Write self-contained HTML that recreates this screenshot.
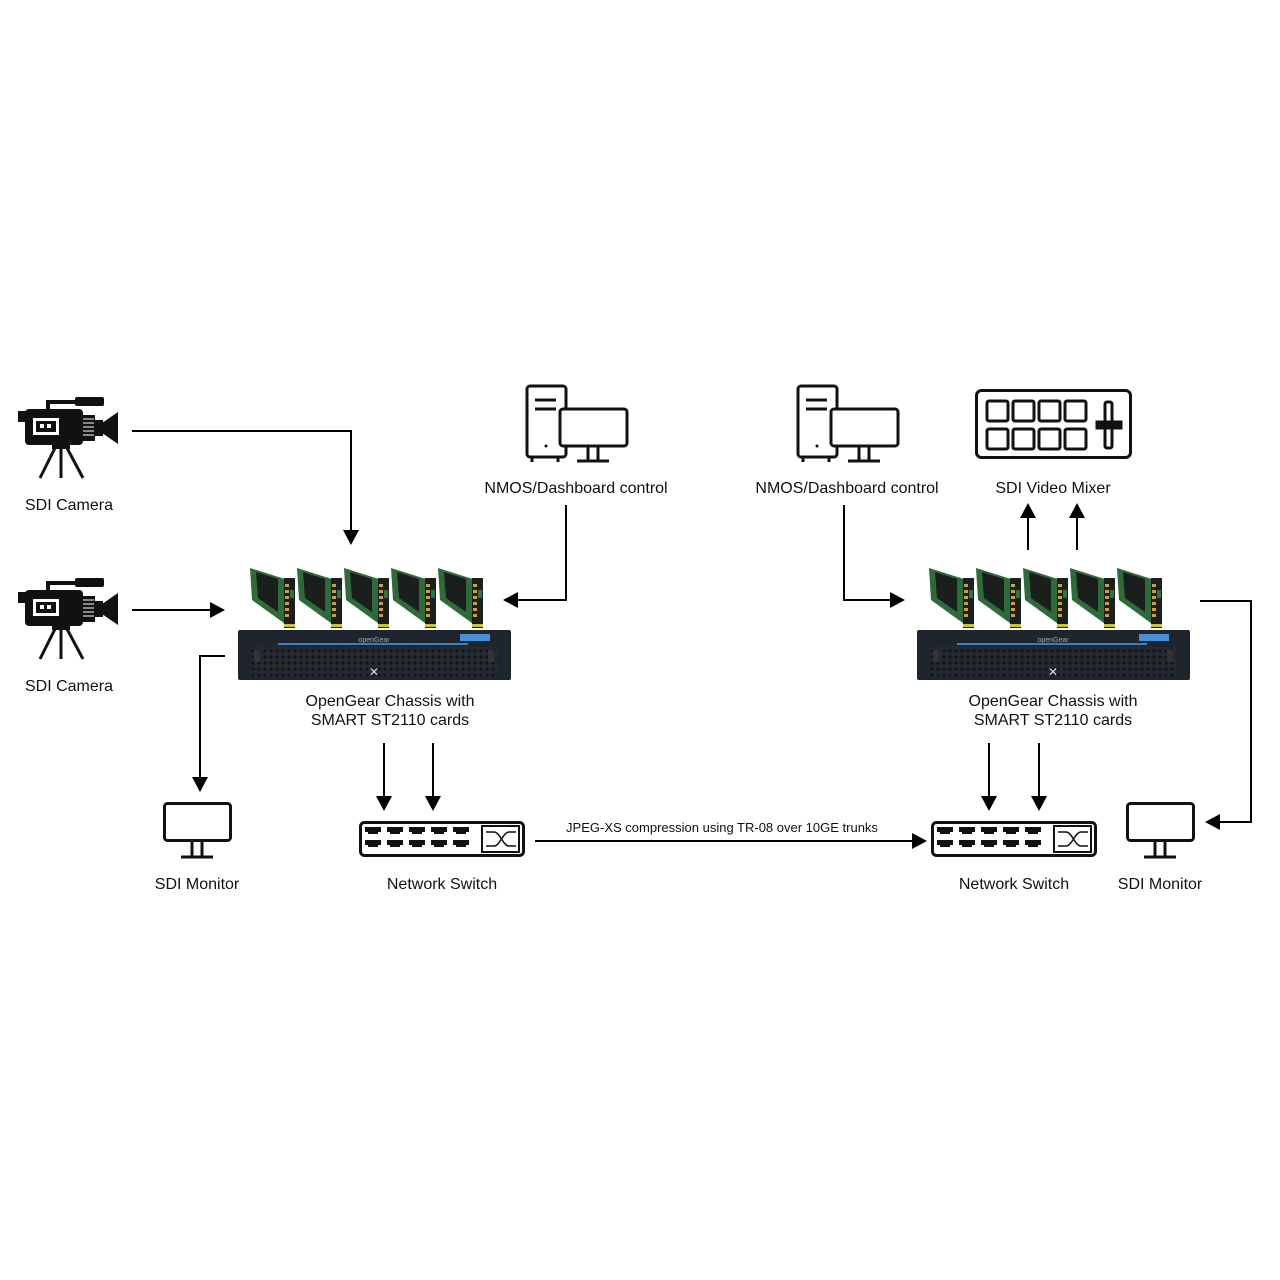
<!DOCTYPE html>
<html><head><meta charset="utf-8"><style>
html,body{margin:0;padding:0;background:#fff}
svg{display:block}
text{font-family:"Liberation Sans",Arial,sans-serif;fill:#111}
</style></head><body>
<svg width="1280" height="1280" viewBox="0 0 1280 1280" xmlns="http://www.w3.org/2000/svg">
<defs>
<pattern id="hex" width="6" height="6" patternUnits="userSpaceOnUse"><rect width="6" height="6" fill="#252a31"/><circle cx="3" cy="3" r="1.6" fill="#111418"/></pattern>
<g id="cam">
  <rect x="3" y="21" width="10" height="11" fill="#111"/>
  <path d="M33 22 V12 H62" stroke="#111" stroke-width="4" fill="none"/>
  <rect x="60" y="7" width="29" height="9" rx="2" fill="#111"/>
  <rect x="10" y="19" width="58" height="36" rx="4" fill="#111"/>
  <rect x="18" y="28" width="26" height="17" fill="#fff"/>
  <rect x="21" y="31" width="20" height="11" fill="#111"/>
  <rect x="25" y="34" width="4" height="4" fill="#fff"/>
  <rect x="32" y="34" width="4" height="4" fill="#fff"/>
  <rect x="67" y="25" width="13" height="26" fill="#111"/>
  <g stroke="#fff" stroke-width="1"><line x1="68" y1="29" x2="79" y2="29"/><line x1="68" y1="33" x2="79" y2="33"/><line x1="68" y1="37" x2="79" y2="37"/><line x1="68" y1="41" x2="79" y2="41"/><line x1="68" y1="45" x2="79" y2="45"/></g>
  <rect x="80" y="30" width="8" height="16" fill="#111"/>
  <polygon points="87,33 103,22 103,54 87,43" fill="#111"/>
  <rect x="37" y="54" width="18" height="5" fill="#111"/>
  <g stroke="#111" stroke-width="3" fill="none"><line x1="40" y1="58" x2="25" y2="88"/><line x1="46" y1="58" x2="46" y2="88"/><line x1="52" y1="58" x2="68" y2="88"/></g>
</g>
<g id="pc" fill="none" stroke="#111" stroke-width="3">
  <rect x="7" y="6" width="39" height="71" rx="3" fill="#fff"/>
  <line x1="15" y1="20" x2="36" y2="20"/><line x1="15" y1="29" x2="36" y2="29"/>
  <line x1="12" y1="77" x2="12" y2="82"/><line x1="38" y1="77" x2="38" y2="82"/>
  <circle cx="26" cy="66" r="1.5" fill="#111" stroke="none"/>
  <rect x="40" y="29" width="67" height="37" rx="3" fill="#fff"/>
  <line x1="68" y1="66" x2="68" y2="81"/><line x1="78" y1="66" x2="78" y2="81"/>
  <line x1="57" y1="81" x2="89" y2="81"/>
</g>
<g id="mon" fill="none" stroke="#111" stroke-width="3">
  <rect x="1.5" y="1.5" width="66" height="37" rx="3"/>
  <line x1="29" y1="39" x2="29" y2="54"/><line x1="39" y1="39" x2="39" y2="54"/>
  <line x1="18" y1="55" x2="50" y2="55"/>
</g>
<g id="sw">
  <rect x="1.5" y="1.5" width="163" height="33" rx="4" fill="none" stroke="#111" stroke-width="3"/>
  <g fill="#111">
    <path d="M6 6h16v5h-3v2h-10v-2h-3z"/><path d="M28 6h16v5h-3v2h-10v-2h-3z"/><path d="M50 6h16v5h-3v2h-10v-2h-3z"/><path d="M72 6h16v5h-3v2h-10v-2h-3z"/><path d="M94 6h16v5h-3v2h-10v-2h-3z"/>
    <path d="M6 19h16v5h-3v2h-10v-2h-3z"/><path d="M28 19h16v5h-3v2h-10v-2h-3z"/><path d="M50 19h16v5h-3v2h-10v-2h-3z"/><path d="M72 19h16v5h-3v2h-10v-2h-3z"/><path d="M94 19h16v5h-3v2h-10v-2h-3z"/>
  </g>
  <rect x="123" y="5" width="37" height="26" fill="none" stroke="#111" stroke-width="2"/>
  <path d="M127 11h8c6 0 9 14 15 14h7M127 25h8c6 0 9-14 15-14h7" fill="none" stroke="#111" stroke-width="1.5"/>
</g>
<g id="card">
  <polygon points="2,4 40,16 40,62 4,36" fill="#2f6b3a"/>
  <polygon points="8,8 30,15 30,48 10,34" fill="#1a1e1c"/>
  <rect x="36" y="14" width="11" height="50" fill="#1c1f1e"/>
  <g fill="#c9a045"><rect x="37" y="20" width="4" height="3"/><rect x="37" y="26" width="4" height="3"/><rect x="37" y="32" width="4" height="3"/><rect x="37" y="38" width="4" height="3"/><rect x="37" y="44" width="4" height="3"/><rect x="37" y="50" width="4" height="3"/></g>
  <rect x="42" y="26" width="4" height="8" fill="#4a5" opacity=".6"/>
  <rect x="36" y="60" width="11" height="3" fill="#c8c040"/>
</g>
<g id="chassis">
  <rect x="0" y="0" width="273" height="50" rx="2" fill="#1f252d"/>
  <rect x="14" y="16" width="246" height="31" fill="url(#hex)"/>
  <line x1="40" y1="14" x2="230" y2="14" stroke="#3a7fc0" stroke-width="2"/>
  <rect x="222" y="4" width="30" height="7" fill="#4a90d8"/>
  <text x="136" y="12" font-size="7" text-anchor="middle" style="fill:#9ab">openGear</text>
  <text x="136" y="46" font-size="12" text-anchor="middle" style="fill:#ddd">✕</text>
  <rect x="16" y="20" width="6" height="12" fill="#333"/><rect x="250" y="20" width="6" height="12" fill="#333"/>
</g>
<g id="mixer" fill="none" stroke="#111" stroke-width="3">
  <rect x="1.5" y="1.5" width="154" height="67" rx="5"/>
  <rect x="12" y="12" width="21" height="20" rx="2"/><rect x="38" y="12" width="21" height="20" rx="2"/><rect x="64" y="12" width="21" height="20" rx="2"/><rect x="90" y="12" width="21" height="20" rx="2"/>
  <rect x="12" y="40" width="21" height="20" rx="2"/><rect x="38" y="40" width="21" height="20" rx="2"/><rect x="64" y="40" width="21" height="20" rx="2"/><rect x="90" y="40" width="21" height="20" rx="2"/>
  <rect x="130" y="13" width="7" height="46" rx="2"/>
  <rect x="122" y="33" width="24" height="6" fill="#111"/>
</g>
</defs>
<g stroke="#000" stroke-width="2" fill="none">
  <path d="M132 431 H351 V532"/>
  <path d="M132 610 H212"/>
  <path d="M566 505 V600 H516"/>
  <path d="M225 656 H200 V779"/>
  <path d="M384 743 V798"/><path d="M433 743 V798"/>
  <path d="M535 841 H914"/>
  <path d="M844 505 V600 H892"/>
  <path d="M1028 550 V516"/><path d="M1077 550 V516"/>
  <path d="M1200 601 H1251 V822 H1218"/>
  <path d="M989 743 V798"/><path d="M1039 743 V798"/>
</g>
<g fill="#000">
  <polygon points="343,530 359,530 351,545"/>
  <polygon points="210,602 210,618 225,610"/>
  <polygon points="518,592 518,608 503,600"/>
  <polygon points="192,777 208,777 200,792"/>
  <polygon points="376,796 392,796 384,811"/><polygon points="425,796 441,796 433,811"/>
  <polygon points="912,833 912,849 927,841"/>
  <polygon points="890,592 890,608 905,600"/>
  <polygon points="1020,518 1036,518 1028,503"/><polygon points="1069,518 1085,518 1077,503"/>
  <polygon points="1220,814 1220,830 1205,822"/>
  <polygon points="981,796 997,796 989,811"/><polygon points="1031,796 1047,796 1039,811"/>
</g>
<use href="#cam" x="15" y="390"/>
<use href="#cam" x="15" y="571"/>
<use href="#pc" x="520" y="380"/>
<use href="#pc" x="791" y="380"/>
<use href="#mixer" x="975" y="389"/>
<use href="#card" x="248" y="564"/><use href="#card" x="295" y="564"/><use href="#card" x="342" y="564"/><use href="#card" x="389" y="564"/><use href="#card" x="436" y="564"/>
<use href="#card" x="927" y="564"/><use href="#card" x="974" y="564"/><use href="#card" x="1021" y="564"/><use href="#card" x="1068" y="564"/><use href="#card" x="1115" y="564"/>
<use href="#chassis" x="238" y="630"/>
<use href="#chassis" x="917" y="630"/>
<use href="#mon" x="163" y="802"/>
<use href="#mon" x="1126" y="802"/>
<use href="#sw" x="359" y="821"/>
<use href="#sw" x="931" y="821"/>
<g font-size="16" text-anchor="middle">
  <text x="69" y="510">SDI Camera</text>
  <text x="69" y="691">SDI Camera</text>
  <text x="576" y="493">NMOS/Dashboard control</text>
  <text x="847" y="493">NMOS/Dashboard control</text>
  <text x="1053" y="493">SDI Video Mixer</text>
  <text x="390" y="706">OpenGear Chassis with</text>
  <text x="390" y="725">SMART ST2110 cards</text>
  <text x="1053" y="706">OpenGear Chassis with</text>
  <text x="1053" y="725">SMART ST2110 cards</text>
  <text x="197" y="889">SDI Monitor</text>
  <text x="442" y="889">Network Switch</text>
  <text x="1014" y="889">Network Switch</text>
  <text x="1160" y="889">SDI Monitor</text>
  <text x="722" y="832" font-size="13">JPEG-XS compression using TR-08 over 10GE trunks</text>
</g>
</svg>
</body></html>
